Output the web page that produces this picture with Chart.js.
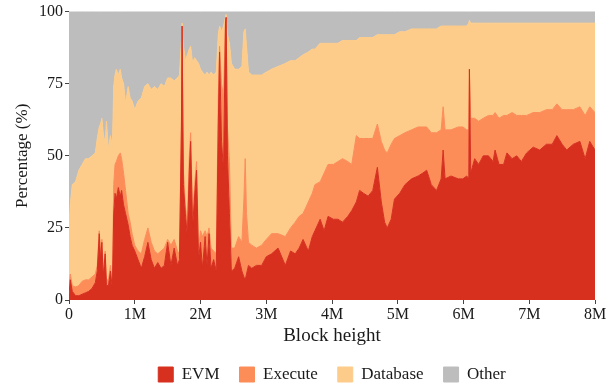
<!DOCTYPE html>
<html>
<head>
<meta charset="utf-8">
<script src="https://cdn.jsdelivr.net/npm/chart.js@4"></script>
<style>
  html, body { margin: 0; padding: 0; background: #fff; }
  #wrap { width: 613px; height: 389px; }
</style>
</head>
<body>
<div id="wrap"><canvas id="chart" width="613" height="389"></canvas></div>
<script>
// Share of block processing time per component, stacked to 100%.
// Block heights are in millions.
const blocksM = [
  0, 0.02, 0.05, 0.1, 0.15, 0.2, 0.25, 0.3, 0.35, 0.4,
  0.43, 0.46, 0.48, 0.5, 0.52, 0.55, 0.57, 0.6, 0.63, 0.66,
  0.68, 0.7, 0.72, 0.75, 0.78, 0.8, 0.83, 0.86, 0.9, 0.93,
  0.96, 1, 1.05, 1.1, 1.15, 1.2, 1.25, 1.3, 1.35, 1.4,
  1.45, 1.5, 1.55, 1.6, 1.65, 1.68, 1.71, 1.72, 1.74, 1.77,
  1.8, 1.83, 1.85, 1.88, 1.91, 1.94, 1.97, 2, 2.03, 2.07,
  2.1, 2.13, 2.16, 2.2, 2.24, 2.27, 2.29, 2.32, 2.35, 2.38,
  2.39, 2.41, 2.44, 2.47, 2.52, 2.58, 2.63, 2.66, 2.68, 2.7,
  2.73, 2.78, 2.85, 2.93, 3, 3.08, 3.18, 3.29, 3.37, 3.44,
  3.5, 3.56, 3.64, 3.7, 3.74, 3.82, 3.88, 3.94, 4.02, 4.09,
  4.16, 4.24, 4.3, 4.37, 4.42, 4.48, 4.55, 4.62, 4.69, 4.75,
  4.8, 4.84, 4.9, 4.95, 5.03, 5.11, 5.21, 5.31, 5.38, 5.44,
  5.51, 5.59, 5.66, 5.69, 5.72, 5.81, 5.92, 5.99, 6.05, 6.08,
  6.09, 6.11, 6.17, 6.23, 6.3, 6.38, 6.45, 6.48, 6.54, 6.61,
  6.66, 6.74, 6.81, 6.88, 6.96, 7.06, 7.16, 7.26, 7.35, 7.42,
  7.5, 7.57, 7.67, 7.77, 7.85, 7.92, 8
]

const evm = [
  2, 7, 3, 1.5, 1.5, 2, 2.5, 3, 4, 6,
  10, 23, 14, 20, 8, 16, 5, 5, 10, 4,
  30, 37, 35, 39, 36, 38, 33, 30, 26, 22,
  19, 17, 14, 11, 15, 20, 14, 11, 13, 11,
  12, 20, 12, 18, 12, 14, 60, 95, 40, 30,
  22, 45, 55, 25, 36, 45, 14, 20, 11, 22,
  12, 23, 11, 14, 10, 60, 86, 55, 45, 96,
  98, 50, 30, 10, 11, 15, 10, 8, 7, 9,
  12, 11, 12, 12, 15, 16, 18, 12, 17, 16,
  18, 21, 17, 22, 24, 28, 24, 29, 28, 28,
  27, 29, 31, 34, 38, 37, 36, 38, 46, 34,
  27, 25, 28, 35, 37, 40, 42, 43, 44, 45,
  40, 38, 42, 52, 42, 43, 42, 42, 43, 42,
  80, 44, 49, 47, 50, 50, 48, 52, 47, 47,
  51, 49, 50, 48, 51, 53, 52, 54, 54, 57,
  54, 52, 54, 55, 49, 55, 52
]

const execute = [
  2, 2, 2, 3, 3.5, 4.5, 4.5, 4, 4, 3,
  2, 1, 2, 1, 2, 1, 2, 2, 2, 2,
  10, 10, 13, 11, 15, 11, 11, 8, 4, 5,
  4, 2, 3, 5, 6, 5, 6, 6, 3, 6,
  6, 1, 7, 3, 5, 2, 2, 0, 5, 3,
  4, 5, 3, 5, 4, 3, 4, 4, 11, 2,
  10, 2, 7, 3, 6, 10, 2, 20, 25, 1,
  0, 10, 18, 8, 7, 7, 10, 27, 42, 21,
  8, 8, 6, 7, 6, 7, 5, 10, 8, 11,
  11, 9, 17, 15, 16, 13, 20, 18, 19, 20,
  22, 19, 16, 23, 18, 19, 20, 18, 15, 21,
  25, 26, 26, 21, 20, 18, 17, 17, 16, 15,
  18, 20, 17, 15, 17, 16, 18, 18, 16, 17,
  0, 19, 14, 15, 13, 14, 16, 13, 16, 17,
  13, 16, 14, 16, 13, 12, 13, 12, 12, 11,
  12, 14, 12, 12, 15, 12, 13
]

const database = [
  21, 24, 35, 36.5, 40, 40.5, 42, 42, 42, 42,
  44, 36, 45, 42, 48, 37, 55, 45, 45, 47,
  34, 31, 32, 28, 29, 28, 31, 30, 44, 43,
  46, 47, 52, 54, 53, 50, 53, 57, 57, 58,
  56, 56, 58, 55, 60, 62, 28, 1, 43, 50,
  59, 37, 30, 52, 44, 35, 64, 56, 57, 54,
  57, 53, 61, 61, 63, 22, 7, 18, 25, 1,
  1, 32, 41, 64, 62, 58, 61, 58, 45, 58,
  59, 59, 60, 59, 58, 57, 58, 60, 58, 56,
  55, 55, 52, 50, 47, 48, 45, 42, 42, 41,
  41, 42, 43, 33, 35, 35, 35, 35, 31, 37,
  40, 41, 38, 36, 36, 35, 35, 34, 34, 34,
  36, 36, 36, 28, 36, 36, 35, 35, 36, 37,
  17, 33, 33, 34, 33, 32, 32, 31, 33, 32,
  32, 31, 32, 32, 32, 31, 31, 30, 30, 28,
  30, 30, 30, 29, 32, 29, 31
]

const other = [
  75, 67, 60, 59, 55, 53, 51, 51, 50, 49,
  44, 40, 39, 37, 42, 46, 38, 48, 43, 47,
  26, 22, 20, 22, 20, 23, 25, 32, 26, 30,
  31, 34, 31, 30, 26, 25, 27, 26, 27, 25,
  26, 23, 23, 24, 23, 22, 10, 4, 12, 17,
  15, 13, 12, 18, 16, 17, 18, 20, 21, 22,
  21, 22, 21, 22, 21, 8, 5, 7, 5, 2,
  1, 8, 11, 18, 20, 20, 19, 7, 6, 12,
  21, 22, 22, 22, 21, 20, 19, 18, 17, 17,
  16, 15, 14, 13, 13, 11, 11, 11, 11, 11,
  10, 10, 10, 10, 9, 9, 9, 9, 8, 8,
  8, 8, 8, 8, 7, 7, 6, 6, 6, 6,
  6, 6, 5, 5, 5, 5, 5, 5, 5, 4,
  3, 4, 4, 4, 4, 4, 4, 4, 4, 4,
  4, 4, 4, 4, 4, 4, 4, 4, 4, 4,
  4, 4, 4, 4, 4, 4, 4
]

const seriesNames = ["EVM", "Execute", "Database", "Other"]
const xTicksM = [0, 1, 2, 3, 4, 5, 6, 7, 8]
const yTicks = [0, 25, 50, 75, 100]

const colors = ["#d7301f", "#fc8d59", "#fdcc8a", "#bdbdbd"]
const serif = "'Liberation Serif', 'DejaVu Serif', serif"
const ink = "#1a1a1a"

const points = (vals) => vals.map((v, i) => ({ x: blocksM[i], y: v }))

const datasets = [evm, execute, database, other].map((vals, i) => ({
  label: seriesNames[i],
  data: points(vals),
  backgroundColor: colors[i],
  borderColor: colors[i],
  borderWidth: 1,
  pointRadius: 0,
  tension: 0,
  fill: i === 0 ? "origin" : "-1",
}))

new Chart(document.getElementById("chart"), {
  type: "line",
  data: { datasets },
  options: {
    responsive: false,
    animation: false,
    layout: { padding: { left: 0, right: 18, top: 10, bottom: -4 } },
    plugins: {
      tooltip: { enabled: false },
      legend: {
        position: "bottom",
        fullSize: false,
        labels: {
          color: ink,
          font: { family: serif, size: 17 },
          boxWidth: 15,
          boxHeight: 15,
          padding: 20,
        }
      }
    },
    scales: {
      x: {
        type: "linear",
        min: 0,
        max: 8,
        afterBuildTicks: (s) => { s.ticks = xTicksM.map(v => ({ value: v })) },
        afterFit: (s) => { s.height = 46 },
        border: { display: false },
        grid: { drawOnChartArea: false, drawTicks: true, tickLength: 4, color: "#444" },
        ticks: {
          color: ink,
          padding: 1,
          maxRotation: 0,
          font: { family: serif, size: 16 },
          callback: (v) => v === 0 ? "0" : v + "M",
        },
        title: {
          display: true,
          text: "Block height",
          color: ink,
          padding: 0,
          font: { family: serif, size: 19, lineHeight: 1 },
        }
      },
      y: {
        stacked: true,
        min: 0,
        max: 100,
        afterBuildTicks: (s) => { s.ticks = yTicks.map(v => ({ value: v })) },
        afterFit: (s) => { s.width = 69 },
        border: { display: false },
        grid: { drawOnChartArea: false, drawTicks: true, tickLength: 4, color: "#444" },
        ticks: {
          color: ink,
          padding: 2,
          font: { family: serif, size: 16 },
        },
        title: {
          display: true,
          text: "Percentage (%)",
          color: ink,
          padding: { top: 12, bottom: 0 },
          font: { family: serif, size: 17 },
        }
      }
    }
  }
})
</script>
</body>
</html>
